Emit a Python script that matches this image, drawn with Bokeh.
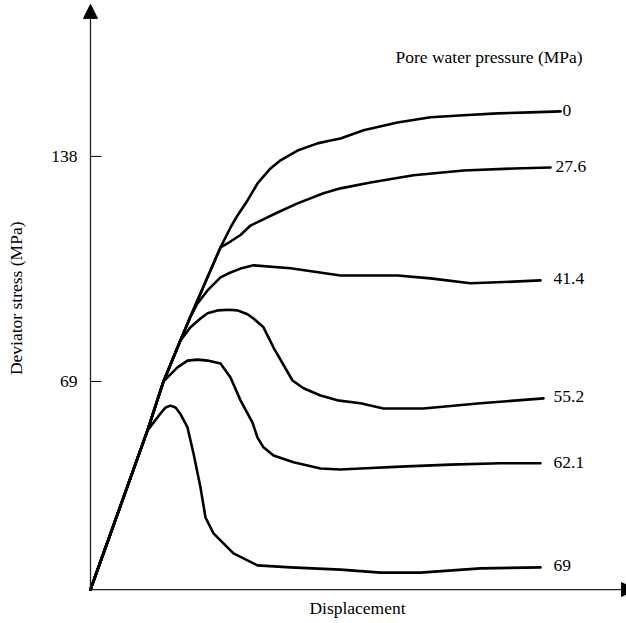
import math
from bokeh.plotting import figure
from bokeh.models import Range1d, Arrow, NormalHead, ColumnDataSource
from bokeh.core.properties import value
from bokeh.embed import file_html
from bokeh.resources import INLINE

# ---- data (displacement: arbitrary units; deviator stress: MPa) ----
x_0 = [0, 0.57, 0.73, 0.90, 1.00, 1.13, 1.30, 1.40, 1.47, 1.57, 1.67, 1.80, 1.90, 2.07, 2.27, 2.40, 2.50, 2.73, 3.07, 3.40, 3.73, 4.07, 4.40, 4.70]
y_0 = [5.2, 54.0, 69.0, 81.6, 88.9, 98.1, 110.1, 116.2, 119.9, 124.5, 129.7, 134.3, 136.8, 139.8, 142.0, 142.9, 143.5, 146.0, 148.4, 150.0, 150.6, 151.2, 151.5, 151.8]

x_27 = [0, 0.57, 0.73, 0.90, 1.00, 1.13, 1.30, 1.40, 1.50, 1.60, 1.87, 2.07, 2.33, 2.50, 2.80, 3.23, 3.73, 4.23, 4.60]
y_27 = [5.2, 54.0, 69.0, 81.6, 88.9, 98.1, 110.1, 111.9, 113.9, 116.8, 120.8, 123.6, 126.7, 128.2, 130.0, 132.2, 133.7, 134.3, 134.6]

x_41 = [0, 0.57, 0.73, 0.90, 1.00, 1.07, 1.17, 1.30, 1.40, 1.50, 1.63, 2.00, 2.50, 3.07, 3.40, 3.80, 4.07, 4.50]
y_41 = [5.2, 54.0, 69.0, 81.6, 88.9, 92.9, 96.9, 100.9, 102.4, 103.6, 104.6, 103.7, 101.5, 101.5, 100.6, 99.1, 99.4, 100.0]

x_55 = [0, 0.57, 0.73, 0.90, 1.00, 1.10, 1.17, 1.28, 1.38, 1.47, 1.57, 1.63, 1.73, 1.83, 2.02, 2.13, 2.30, 2.47, 2.70, 2.93, 3.33, 3.90, 4.53]
y_55 = [5.2, 54.0, 69.0, 81.6, 85.6, 88.3, 89.9, 90.8, 91.0, 90.8, 89.6, 88.3, 85.6, 79.4, 69.3, 66.9, 64.7, 63.2, 62.3, 60.7, 60.7, 62.3, 63.8]

x_62 = [0, 0.57, 0.73, 0.87, 0.97, 1.07, 1.17, 1.30, 1.40, 1.50, 1.62, 1.67, 1.73, 1.83, 2.03, 2.30, 2.50, 2.70, 3.10, 3.60, 4.10, 4.50]
y_62 = [5.2, 54.0, 69.0, 73.3, 75.4, 75.7, 75.4, 74.5, 70.2, 63.2, 56.4, 51.8, 48.8, 46.3, 44.2, 42.3, 42.0, 42.3, 42.9, 43.5, 43.9, 43.9]

x_69 = [0, 0.57, 0.70, 0.75, 0.80, 0.85, 0.90, 0.97, 1.03, 1.10, 1.15, 1.23, 1.43, 1.67, 2.00, 2.50, 2.90, 3.30, 3.90, 4.50]
y_69 = [5.2, 54.0, 59.2, 61.0, 61.6, 61.0, 59.0, 54.9, 46.9, 36.5, 27.3, 22.4, 16.3, 12.6, 12.0, 11.3, 10.4, 10.4, 11.7, 12.0]

curve_labels = ["0", "27.6", "41.4", "55.2", "62.1", "69"]
label_x = [4.72, 4.65, 4.63, 4.63, 4.63, 4.63]
label_y = [152.1, 134.9, 100.6, 64.4, 44.2, 12.6]

y_ticks = [69, 138]
y_tick_labels = ["69", "138"]
legend_title = "Pore water pressure (MPa)"
y_title = "Deviator stress (MPa)"
x_title = "Displacement"

FONT = "Liberation Serif"
FS = "17.5px"

X0, Y0 = 0, 5.2             # axes origin
X_TOP, Y_TOP = 5.45, 184.6  # arrow tips
TICK = 0.11                 # inward tick length (x units)

p = figure(width=626, height=623, output_backend="svg", toolbar_location=None,
           x_range=Range1d(-0.90, 5.36), y_range=Range1d(-5.21, 185.8),
           min_border_left=0, min_border_right=0, min_border_top=0, min_border_bottom=0)
p.grid.visible = False
p.axis.visible = False
p.outline_line_color = None
p.background_fill_color = "white"

# axis lines with arrow heads
p.add_layout(Arrow(x_start=X0, y_start=Y0, x_end=X0, y_end=Y_TOP, line_color="#222", line_width=1.3,
                   end=NormalHead(size=14, fill_color="black", line_color="black")))
p.add_layout(Arrow(x_start=X0, y_start=Y0, x_end=X_TOP, y_end=Y0, line_color="#222", line_width=1.3,
                   end=NormalHead(size=14, fill_color="black", line_color="black")))

# y ticks (pointing inward) and their labels
p.segment(x0=[X0] * len(y_ticks), y0=y_ticks, x1=[X0 + TICK] * len(y_ticks), y1=y_ticks,
          line_color="black", line_width=1)
p.text(x=[X0 - 0.13] * len(y_ticks), y=y_ticks, text=y_tick_labels, text_font=value(FONT),
       text_font_size=value(FS), text_align="right", text_baseline="middle", text_color="black")

# axis titles
p.text(x=[X0 - 0.75], y=[94.5], text=[y_title], angle=math.pi / 2, text_font=value(FONT),
       text_font_size=value(FS), text_align="center", text_baseline="middle", text_color="black")
p.text(x=[2.67], y=[-0.31], text=[x_title], text_font=value(FONT),
       text_font_size=value(FS), text_align="center", text_baseline="middle", text_color="black")

# curves
for xs, ys in [(x_0, y_0), (x_27, y_27), (x_41, y_41), (x_55, y_55), (x_62, y_62), (x_69, y_69)]:
    p.line(xs, ys, line_color="black", line_width=2.6, line_join="round", line_cap="round")

src = ColumnDataSource(dict(x=label_x, y=label_y, t=curve_labels))
p.text(x="x", y="y", text="t", source=src, text_font=value(FONT), text_font_size=value(FS),
       text_align="left", text_baseline="middle", text_color="black")

p.text(x=[3.05], y=[168.4], text=[legend_title], text_font=value(FONT), text_font_size=value(FS),
       text_align="left", text_baseline="middle", text_color="black")

open("out.html", "w").write(file_html(p, INLINE))
